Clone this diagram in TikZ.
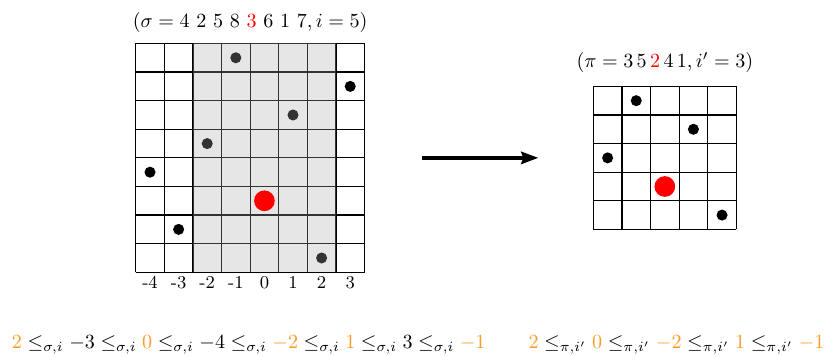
\documentclass[tikz,border=0pt]{standalone}
\usepackage{amsmath,amssymb}
\usetikzlibrary{arrows.meta,positioning}
\definecolor{ordr}{HTML}{FF9A26}
\tikzset{
  gridln/.style={draw=black,line width=.6pt,step=.5cm},
  dotb/.style  ={circle,fill=black,inner sep=0pt,minimum size=5.5pt},
  hit/.style   ={circle,fill=red,inner sep=0pt,minimum size=10.3pt},
  band/.style  ={fill=black!33,opacity=.3},
  lab/.style   ={font=\small,anchor=base,inner sep=0pt},
  eqn/.style   ={anchor=base west,inner sep=0pt},
  big/.style   ={-{Stealth[length=8.5pt,width=6pt,inset=1pt]},line width=2pt},
}

\begin{document}
\begin{tikzpicture}[x=.5cm,y=.5cm]
  \useasboundingbox (-4.745,-2.93) rectangle (24.17,9.52);
  % left permutation
  \draw[gridln] (0,0) grid (8,8);
  \foreach \c/\v in {1/4,2/2,3/5,4/8,6/6,7/1,8/7}
    \node[dotb] (s\c) at (\c-.5,\v-.5) {};
  \fill[band] (2,0) rectangle (7,8);
  \node[hit] (s5) at (4.5,2.5) {};
  \foreach \l [count=\c] in {-4,-3,-2,-1,0,1,2,3}
    \node[lab] (c\c) at (\c-.5,-.56) {\l};
  \node (sig) at (4,8.75) {$(\sigma=4\ 2\ 5\ 8\ {\color{red}3}\ 6\ 1\ 7, i=5)$};
  % right permutation
  \begin{scope}[shift={(16,1.5)}]
    \draw[gridln] (0,0) grid (5,5);
    \foreach \c/\v in {1/3,2/5,4/4,5/1}
      \node[dotb] (p\c) at (\c-.5,\v-.5) {};
    \node[hit] (p3) at (2.5,1.5) {};
    \node (pi) at (2.5,5.82) {$(\pi=3\,5\,{\color{red}2}\,4\,1, i'=3)$};
  \end{scope}
  % arrow
  \coordinate (from) at (10,4);
  \coordinate (to) at (14.08,4);
  \draw[big] (from) -- (to);
  % orders
  \node[eqn] (ordl) at (-4.34,-2.66)
    {${\color{ordr}2}\le_{\sigma,i}-3\le_{\sigma,i}{\color{ordr}0}\le_{\sigma,i}-4\le_{\sigma,i}{\color{ordr}-2}\le_{\sigma,i}{\color{ordr}1}\le_{\sigma,i}3\le_{\sigma,i}{\color{ordr}-1}$};
  \node[eqn] (ordr) at (13.72,-2.66)
    {${\color{ordr}2}\le_{\pi,i'}{\color{ordr}0}\le_{\pi,i'}{\color{ordr}-2}\le_{\pi,i'}{\color{ordr}1}\le_{\pi,i'}{\color{ordr}-1}$};
\end{tikzpicture}
\end{document}
